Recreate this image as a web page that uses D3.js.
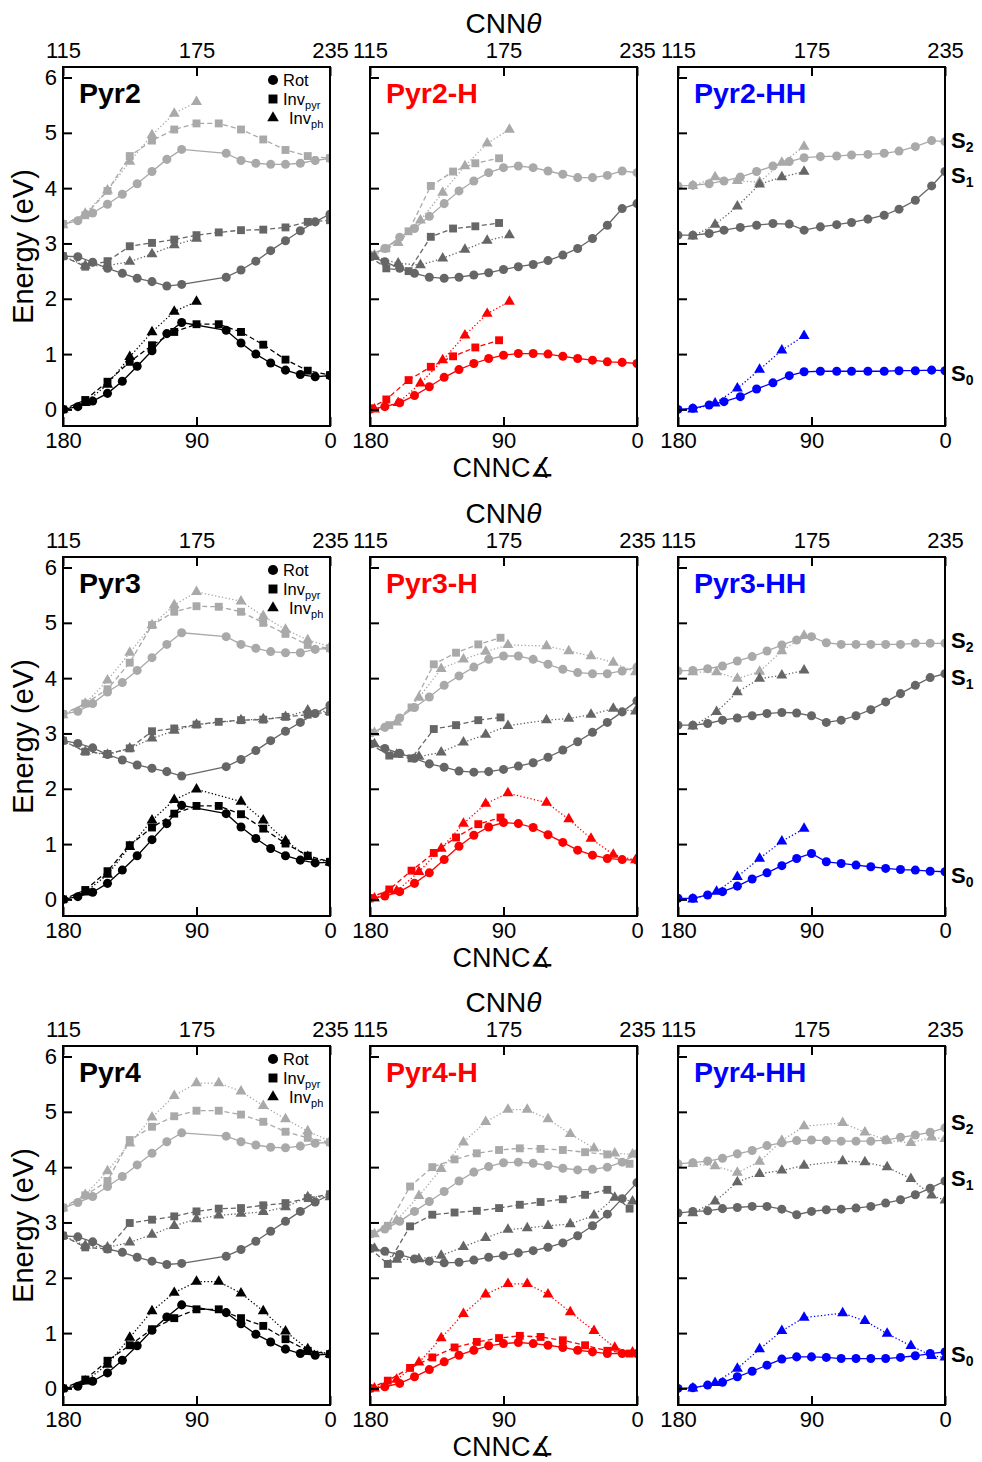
<!DOCTYPE html>
<html><head><meta charset="utf-8">
<script src="https://cdn.jsdelivr.net/npm/d3@7"></script>
<style>
body{margin:0;background:#fff}
svg{display:block}
text{font-family:"Liberation Sans",Arial,Helvetica,sans-serif}
</style>
</head><body>
<svg id="c" width="982" height="1462"></svg>
<script>
// ---------------- tick labels / categories ----------------
const yTicks = [0,1,2,3,4,5,6];
const bottomTicks = [180,90,0];
const topTicks = [115,175,235];
const titles = [["Pyr2","Pyr2-H","Pyr2-HH"],["Pyr3","Pyr3-H","Pyr3-HH"],["Pyr4","Pyr4-H","Pyr4-HH"]];
const stateNames = ["S0","S1","S2"];
// S-label vertical positions (eV) for each row: S0, S1, S2
const sLabelRow1 = [0.66,4.24,4.87];
const sLabelRow2 = [0.44,4.02,4.69];
const sLabelRow3 = [0.63,3.80,4.81];

// ---------------- Pyr2 ----------------
const A1_rot_x = [180,170,160,150,140,130,120,110,100,70,60,50,40,30,20,10,0];
const A1_rot_S0 = [0,0.05,0.15,0.29,0.51,0.78,1.06,1.37,1.57,1.43,1.2,1.0,0.84,0.71,0.63,0.59,0.61];
const A1_rot_S1 = [2.77,2.76,2.66,2.55,2.46,2.37,2.31,2.23,2.26,2.39,2.52,2.68,2.87,3.05,3.23,3.39,3.53];
const A1_rot_S2 = [3.35,3.41,3.55,3.71,3.89,4.08,4.3,4.52,4.7,4.63,4.5,4.45,4.43,4.43,4.45,4.5,4.54];
const A1_pyr_x = [180,165,150,135,120,105,90,75,60,45,30,15,0];
const A1_pyr_S0 = [0,0.17,0.5,0.86,1.16,1.4,1.54,1.54,1.4,1.17,0.9,0.7,0.62];
const A1_pyr_S1 = [2.77,2.58,2.68,2.95,3.01,3.07,3.15,3.2,3.24,3.25,3.29,3.39,3.42];
const A1_pyr_S2 = [3.35,3.51,3.95,4.58,4.86,5.06,5.17,5.17,5.06,4.88,4.69,4.58,4.54];
const A1_ph_x = [180,165,150,135,120,105,90];
const A1_ph_S0 = [0,0.12,0.45,0.95,1.4,1.77,1.95];
const A1_ph_S1 = [2.77,2.6,2.6,2.67,2.81,2.97,3.09];
const A1_ph_S2 = [3.33,3.54,3.96,4.48,4.96,5.35,5.56];

// ---------------- Pyr2-H ----------------
const A2_rot_x = [180,170,160,150,140,130,120,110,100,90,80,70,60,50,40,30,20,10,0];
const A2_rot_S0 = [0,0.05,0.12,0.25,0.41,0.58,0.72,0.83,0.92,0.98,1.01,1.01,1.0,0.96,0.92,0.89,0.86,0.85,0.83];
const A2_rot_S1 = [2.76,2.67,2.55,2.46,2.39,2.37,2.39,2.43,2.47,2.53,2.58,2.62,2.69,2.79,2.91,3.09,3.33,3.63,3.72];
const A2_rot_S2 = [2.79,2.91,3.11,3.27,3.49,3.72,3.95,4.13,4.28,4.37,4.4,4.37,4.31,4.25,4.19,4.19,4.23,4.31,4.28];
const A2_pyr_x = [180,169,154,139,124,109,93];
const A2_pyr_S0 = [0.02,0.18,0.53,0.77,0.96,1.12,1.25];
const A2_pyr_S1 = [2.76,2.55,2.5,3.12,3.27,3.31,3.37];
const A2_pyr_S2 = [2.79,2.91,3.22,4.04,4.3,4.45,4.54];
const A2_ph_x = [177,161,146,131,116,101,86];
const A2_ph_S0 = [0,0.12,0.47,0.89,1.34,1.73,1.95];
const A2_ph_S1 = [2.76,2.64,2.61,2.73,2.89,3.05,3.15];
const A2_ph_S2 = [2.79,3.01,3.42,3.92,4.4,4.81,5.06];

// ---------------- Pyr2-HH ----------------
const A3_rot_x = [180,170,159,149,138,127,116,105,95,84,73,63,52,41,31,20,9,0];
const A3_rot_S0 = [0,0.02,0.08,0.14,0.23,0.37,0.48,0.61,0.68,0.69,0.69,0.69,0.69,0.69,0.7,0.7,0.71,0.7];
const A3_rot_S1 = [3.15,3.15,3.18,3.24,3.29,3.33,3.36,3.35,3.24,3.3,3.34,3.38,3.44,3.51,3.62,3.78,4.04,4.3];
const A3_rot_S2 = [4.04,4.05,4.08,4.13,4.2,4.3,4.4,4.48,4.55,4.57,4.58,4.6,4.61,4.63,4.67,4.75,4.86,4.84];
const A3_ph_x = [170,155,140,125,110,95];
const A3_ph_S0 = [0,0.11,0.38,0.72,1.07,1.33];
const A3_ph_S1 = [3.13,3.34,3.67,4.07,4.2,4.3];
const A3_ph_S2 = [4.04,4.2,4.13,4.11,4.46,4.75];

// ---------------- Pyr3 ----------------
const B1_rot_x = [180,170,160,150,140,130,120,110,100,70,60,50,40,30,20,10,0];
const B1_rot_S0 = [0,0.05,0.13,0.29,0.53,0.79,1.08,1.37,1.7,1.55,1.31,1.1,0.92,0.79,0.71,0.66,0.67];
const B1_rot_S1 = [2.87,2.82,2.74,2.62,2.52,2.43,2.37,2.31,2.23,2.4,2.53,2.69,2.87,3.04,3.2,3.36,3.51];
const B1_rot_S2 = [3.35,3.4,3.54,3.75,3.92,4.14,4.37,4.61,4.82,4.75,4.61,4.54,4.48,4.46,4.46,4.52,4.54];
const B1_pyr_x = [180,165,150,135,120,105,90,75,60,45,30,15,0];
const B1_pyr_S0 = [0,0.17,0.51,0.98,1.3,1.55,1.69,1.69,1.54,1.28,1.01,0.79,0.68];
const B1_pyr_S1 = [2.87,2.67,2.63,2.73,3.04,3.09,3.16,3.21,3.24,3.25,3.3,3.34,3.39];
const B1_pyr_S2 = [3.35,3.54,3.8,4.28,4.96,5.2,5.3,5.29,5.2,5.0,4.8,4.6,4.54];
const B1_ph_x = [180,165,150,135,120,105,90,60,45,30,15,0];
const B1_ph_S0 = [0,0.13,0.45,0.95,1.43,1.8,1.99,1.77,1.43,1.06,0.77,0.67];
const B1_ph_S1 = [2.87,2.67,2.62,2.73,2.91,3.05,3.16,3.24,3.26,3.3,3.42,3.39];
const B1_ph_S2 = [3.33,3.54,3.96,4.46,4.96,5.32,5.56,5.39,5.12,4.88,4.69,4.57];

// ---------------- Pyr3-H ----------------
const B2_rot_x = [180,170,160,150,140,130,120,110,100,90,80,70,60,50,40,30,20,10,0];
const B2_rot_S0 = [0.02,0.06,0.14,0.29,0.48,0.72,0.96,1.16,1.31,1.39,1.37,1.3,1.17,1.03,0.89,0.8,0.74,0.72,0.71];
const B2_rot_S1 = [2.81,2.73,2.64,2.55,2.45,2.39,2.32,2.3,2.31,2.35,2.41,2.47,2.57,2.7,2.85,3.02,3.2,3.39,3.59];
const B2_rot_S2 = [3.01,3.11,3.28,3.47,3.66,3.87,4.04,4.2,4.34,4.4,4.4,4.34,4.25,4.16,4.1,4.08,4.08,4.13,4.2];
const B2_pyr_x = [180,167,152,137,122,107,92];
const B2_pyr_S0 = [0.02,0.18,0.52,0.84,1.12,1.36,1.48];
const B2_pyr_S1 = [2.81,2.6,2.55,3.08,3.15,3.24,3.29];
const B2_pyr_S2 = [3.01,3.15,3.47,4.25,4.46,4.61,4.73];
const B2_ph_x = [177,162,147,132,117,102,87,61,46,31,16,1];
const B2_ph_S0 = [0.02,0.15,0.5,0.92,1.37,1.73,1.92,1.75,1.45,1.1,0.81,0.71];
const B2_ph_S1 = [2.81,2.62,2.58,2.66,2.84,2.98,3.14,3.24,3.27,3.34,3.45,3.4];
const B2_ph_S2 = [3.01,3.2,3.65,4.17,4.34,4.48,4.6,4.58,4.49,4.4,4.28,4.11];

// ---------------- Pyr3-HH ----------------
const B3_rot_x = [180,170,160,150,140,130,120,110,100,90,80,70,60,50,40,30,20,10,0];
const B3_rot_S0 = [0.02,0.02,0.08,0.14,0.24,0.37,0.48,0.61,0.74,0.83,0.68,0.65,0.62,0.59,0.56,0.54,0.53,0.51,0.5];
const B3_rot_S1 = [3.15,3.15,3.18,3.24,3.28,3.32,3.36,3.38,3.37,3.32,3.2,3.24,3.32,3.43,3.57,3.72,3.87,4.01,4.08];
const B3_rot_S2 = [4.13,4.14,4.17,4.22,4.31,4.39,4.49,4.6,4.69,4.75,4.64,4.61,4.61,4.61,4.61,4.61,4.63,4.63,4.63];
const B3_ph_x = [170,154,140,125,110,95];
const B3_ph_S0 = [0,0.14,0.41,0.74,1.05,1.28];
const B3_ph_S1 = [3.13,3.39,3.75,3.99,4.05,4.14];
const B3_ph_S2 = [4.11,4.11,3.99,4.12,4.49,4.77];

// ---------------- Pyr4 ----------------
const C1_rot_x = [180,170,160,150,140,130,120,110,100,70,60,50,40,30,20,10,0];
const C1_rot_S0 = [0,0.04,0.13,0.28,0.51,0.77,1.05,1.29,1.51,1.37,1.17,0.98,0.84,0.71,0.63,0.6,0.62];
const C1_rot_S1 = [2.76,2.74,2.65,2.52,2.46,2.37,2.3,2.24,2.26,2.39,2.51,2.66,2.84,3.02,3.2,3.37,3.5];
const C1_rot_S2 = [3.26,3.36,3.47,3.65,3.83,4.04,4.25,4.46,4.62,4.56,4.46,4.4,4.36,4.35,4.38,4.43,4.45];
const C1_pyr_x = [180,165,150,135,120,105,90,75,60,45,30,15,0];
const C1_pyr_S0 = [0,0.16,0.5,0.78,1.07,1.27,1.43,1.43,1.27,1.13,0.89,0.68,0.62];
const C1_pyr_S1 = [2.76,2.55,2.52,2.99,3.05,3.11,3.2,3.25,3.26,3.31,3.35,3.44,3.51];
const C1_pyr_S2 = [3.27,3.49,3.75,4.49,4.73,4.92,5.02,5.02,4.95,4.82,4.64,4.53,4.45];
const C1_ph_x = [180,165,150,135,120,105,90,75,60,45,30,15,0];
const C1_ph_S0 = [0,0.13,0.43,0.92,1.4,1.73,1.93,1.93,1.72,1.4,1.03,0.71,0.62];
const C1_ph_S1 = [2.76,2.58,2.55,2.64,2.78,2.94,3.06,3.13,3.16,3.19,3.28,3.46,3.46];
const C1_ph_S2 = [3.26,3.5,3.93,4.43,4.9,5.29,5.52,5.52,5.37,5.11,4.87,4.65,4.47];

// ---------------- Pyr4-H ----------------
const C2_rot_x = [180,170,160,150,140,130,120,110,100,90,80,70,60,50,40,30,20,10,0];
const C2_rot_S0 = [0,0.03,0.09,0.21,0.34,0.48,0.6,0.69,0.77,0.81,0.83,0.81,0.78,0.74,0.69,0.66,0.63,0.63,0.63];
const C2_rot_S1 = [2.53,2.48,2.42,2.34,2.3,2.27,2.28,2.32,2.37,2.4,2.45,2.49,2.55,2.63,2.76,2.94,3.15,3.43,3.72];
const C2_rot_S2 = [2.79,2.88,3.02,3.2,3.38,3.56,3.75,3.91,4.01,4.08,4.09,4.07,4.03,3.98,3.95,3.96,4.0,4.09,4.24];
const C2_pyr_x = [180,168,153,138,123,108,93,79,65,50,35,20,5];
const C2_pyr_S0 = [0,0.14,0.37,0.56,0.74,0.84,0.91,0.95,0.93,0.87,0.78,0.68,0.63];
const C2_pyr_S1 = [2.53,2.25,2.93,3.14,3.18,3.21,3.26,3.32,3.37,3.42,3.5,3.59,3.25];
const C2_pyr_S2 = [2.79,2.94,3.65,4.0,4.14,4.25,4.31,4.34,4.33,4.31,4.27,4.23,4.06];
const C2_ph_x = [177,162,147,132,117,102,87,74,60,45,29,15,3];
const C2_ph_S0 = [0,0.16,0.47,0.91,1.35,1.7,1.89,1.89,1.7,1.38,1.04,0.74,0.65];
const C2_ph_S1 = [2.53,2.33,2.34,2.4,2.56,2.72,2.87,2.9,2.94,2.97,3.13,3.45,3.38];
const C2_ph_S2 = [2.79,3.04,3.48,3.97,4.45,4.82,5.04,5.04,4.87,4.6,4.34,4.25,4.23];

// ---------------- Pyr4-HH ----------------
const C3_rot_x = [180,170,160,150,140,130,120,110,100,90,80,70,60,50,40,30,20,10,0];
const C3_rot_S0 = [0,0.01,0.06,0.11,0.21,0.31,0.42,0.53,0.57,0.57,0.56,0.54,0.54,0.54,0.54,0.56,0.59,0.63,0.66];
const C3_rot_S1 = [3.17,3.2,3.21,3.25,3.27,3.29,3.29,3.24,3.14,3.2,3.23,3.24,3.26,3.29,3.35,3.41,3.5,3.62,3.75];
const C3_rot_S2 = [4.06,4.08,4.11,4.16,4.24,4.3,4.39,4.44,4.48,4.49,4.48,4.47,4.47,4.47,4.49,4.54,4.58,4.63,4.71];
const C3_ph_x = [170,155,140,125,110,95,69,54,39,23,9,0];
const C3_ph_S0 = [0,0.1,0.36,0.71,1.04,1.28,1.36,1.22,0.99,0.77,0.59,0.56];
const C3_ph_S1 = [3.17,3.38,3.73,3.88,3.94,4.03,4.11,4.09,4.0,3.79,3.49,3.4];
const C3_ph_S2 = [4.06,4.02,3.9,4.1,4.48,4.74,4.8,4.63,4.48,4.44,4.54,4.51];

// ---------------- assemble panels ----------------
function paths(rx,r0,r1,r2,px,p0,p1,p2,hx,h0,h1,h2){
  const out=[];
  if(hx) out.push({kind:"ph",x:hx,ys:[h0,h1,h2]});
  if(px) out.push({kind:"pyr",x:px,ys:[p0,p1,p2]});
  out.push({kind:"rot",x:rx,ys:[r0,r1,r2]});
  return out;
}
const panelData = [
 [paths(A1_rot_x,A1_rot_S0,A1_rot_S1,A1_rot_S2,A1_pyr_x,A1_pyr_S0,A1_pyr_S1,A1_pyr_S2,A1_ph_x,A1_ph_S0,A1_ph_S1,A1_ph_S2),
  paths(A2_rot_x,A2_rot_S0,A2_rot_S1,A2_rot_S2,A2_pyr_x,A2_pyr_S0,A2_pyr_S1,A2_pyr_S2,A2_ph_x,A2_ph_S0,A2_ph_S1,A2_ph_S2),
  paths(A3_rot_x,A3_rot_S0,A3_rot_S1,A3_rot_S2,null,null,null,null,A3_ph_x,A3_ph_S0,A3_ph_S1,A3_ph_S2)],
 [paths(B1_rot_x,B1_rot_S0,B1_rot_S1,B1_rot_S2,B1_pyr_x,B1_pyr_S0,B1_pyr_S1,B1_pyr_S2,B1_ph_x,B1_ph_S0,B1_ph_S1,B1_ph_S2),
  paths(B2_rot_x,B2_rot_S0,B2_rot_S1,B2_rot_S2,B2_pyr_x,B2_pyr_S0,B2_pyr_S1,B2_pyr_S2,B2_ph_x,B2_ph_S0,B2_ph_S1,B2_ph_S2),
  paths(B3_rot_x,B3_rot_S0,B3_rot_S1,B3_rot_S2,null,null,null,null,B3_ph_x,B3_ph_S0,B3_ph_S1,B3_ph_S2)],
 [paths(C1_rot_x,C1_rot_S0,C1_rot_S1,C1_rot_S2,C1_pyr_x,C1_pyr_S0,C1_pyr_S1,C1_pyr_S2,C1_ph_x,C1_ph_S0,C1_ph_S1,C1_ph_S2),
  paths(C2_rot_x,C2_rot_S0,C2_rot_S1,C2_rot_S2,C2_pyr_x,C2_pyr_S0,C2_pyr_S1,C2_pyr_S2,C2_ph_x,C2_ph_S0,C2_ph_S1,C2_ph_S2),
  paths(C3_rot_x,C3_rot_S0,C3_rot_S1,C3_rot_S2,null,null,null,null,C3_ph_x,C3_ph_S0,C3_ph_S1,C3_ph_S2)]
];
const sLabels = [sLabelRow1,sLabelRow2,sLabelRow3];

// ---------------- layout & style ----------------
const colLeft = [63,370,678];
const rowTop = [67,557,1046];
const W = 267, H = 359;
const s0Colors = ["#000000","#ff0000","#0000ff"];
const S1C = "#666666", S2C = "#a9a9a9";
const dash = {rot:null, pyr:"5,3", ph:"1.3,2.2"};
const symType = {rot:d3.symbolCircle, pyr:d3.symbolSquare, ph:d3.symbolTriangle};
const symSize = {rot:64, pyr:62, ph:52};

const svg = d3.select("#c");
const defs = svg.append("defs");

rowTop.forEach((top,ri)=>{
  colLeft.forEach((left,ci)=>{
    const x = d3.scaleLinear().domain([180,0]).range([left,left+W]);
    const xt = d3.scaleLinear().domain([115,235]).range([left,left+W]);
    const y = d3.scaleLinear().domain([-0.3,6.19]).range([top+H,top]);
    const id = `clip${ri}${ci}`;
    defs.append("clipPath").attr("id",id).append("rect")
      .attr("x",left).attr("y",top).attr("width",W).attr("height",H);
    const g = svg.append("g");
    const plot = g.append("g").attr("clip-path",`url(#${id})`);
    const colors = [s0Colors[ci], S1C, S2C];
    [2,1,0].forEach(si=>{
      panelData[ri][ci].forEach(p=>{
        const pts = p.x.map((xv,i)=>[xv,p.ys[si][i]]);
        plot.append("path").attr("d",d3.line().x(d=>x(d[0])).y(d=>y(d[1]))(pts))
          .attr("fill","none").attr("stroke",colors[si]).attr("stroke-width",1.3)
          .attr("stroke-dasharray",dash[p.kind]);
        const sym = d3.symbol().type(symType[p.kind]).size(symSize[p.kind]);
        plot.selectAll(null).data(pts).join("path")
          .attr("d",sym).attr("transform",d=>`translate(${x(d[0])},${y(d[1])})`)
          .attr("fill",colors[si]);
      });
    });
    const ax = d3.axisLeft(y).tickValues(yTicks).tickSize(-9).tickPadding(6)
      .tickFormat(ci===0? d3.format("d") : ()=>"");
    const gl = g.append("g").attr("transform",`translate(${left},0)`).call(ax);
    const gb = g.append("g").attr("transform",`translate(0,${top+H})`)
      .call(d3.axisBottom(x).tickValues(bottomTicks).tickSize(-9).tickPadding(6.5));
    const gt = g.append("g").attr("transform",`translate(0,${top})`)
      .call(d3.axisTop(xt).tickValues(topTicks).tickSize(-9).tickPadding(9));
    [gl,gb,gt].forEach(a=>{
      a.select(".domain").remove();
      a.selectAll("line").attr("stroke","#000").attr("stroke-width",2);
      a.selectAll("text").attr("font-size",22).attr("fill","#000")
        .attr("font-family","'Liberation Sans',Arial,sans-serif");
    });
    g.append("rect").attr("x",left).attr("y",top).attr("width",W).attr("height",H)
      .attr("fill","none").attr("stroke","#000").attr("stroke-width",2);
    g.append("text").attr("x",left+16).attr("y",top+36).text(titles[ri][ci])
      .attr("font-size",28.5).attr("font-weight","bold").attr("fill",s0Colors[ci]);
    if(ci===0){
      const lg = g.append("g").attr("transform",`translate(${left},${top})`);
      const items = [["rot","Rot",""],["pyr","Inv","pyr"],["ph","Inv","ph"]];
      items.forEach((it,i)=>{
        const yy = 13 + i*19;
        lg.append("path").attr("d",d3.symbol().type(symType[it[0]]).size(it[0]==="ph"?58:80)())
          .attr("transform",`translate(210,${yy})`).attr("fill","#000");
        const t = lg.append("text").attr("x", it[0]==="ph"?226:220).attr("y",yy+5.5)
          .attr("font-size",16.5).attr("fill","#000").text(it[1]);
        if(it[2]) t.append("tspan").attr("font-size",11).attr("dy",4).text(it[2]);
      });
    }
    if(ci===2){
      sLabels[ri].forEach((v,si)=>{
        const t = g.append("text").attr("x",left+W+6).attr("y",y(v)+8)
          .attr("font-size",22).attr("font-weight","bold").attr("fill","#000").text("S");
        t.append("tspan").attr("font-size",14).attr("dy",4).text(String(si));
      });
    }
    if(ci===1){
      const tt = g.append("text").attr("x",left+W/2).attr("y",top-34).attr("text-anchor","middle")
        .attr("font-size",28).attr("fill","#000").text("CNN");
      tt.append("tspan").attr("font-style","italic").text("θ");
      g.append("text").attr("x",left+W/2).attr("y",top+H+51).attr("text-anchor","middle")
        .attr("font-size",27).attr("fill","#000").text("CNNC∡");
    }
    if(ci===0){
      g.append("text").attr("transform",`translate(33,${top+H/2}) rotate(-90)`)
        .attr("text-anchor","middle").attr("font-size",29).attr("fill","#000").text("Energy (eV)");
    }
  });
});
</script>
</body></html>
